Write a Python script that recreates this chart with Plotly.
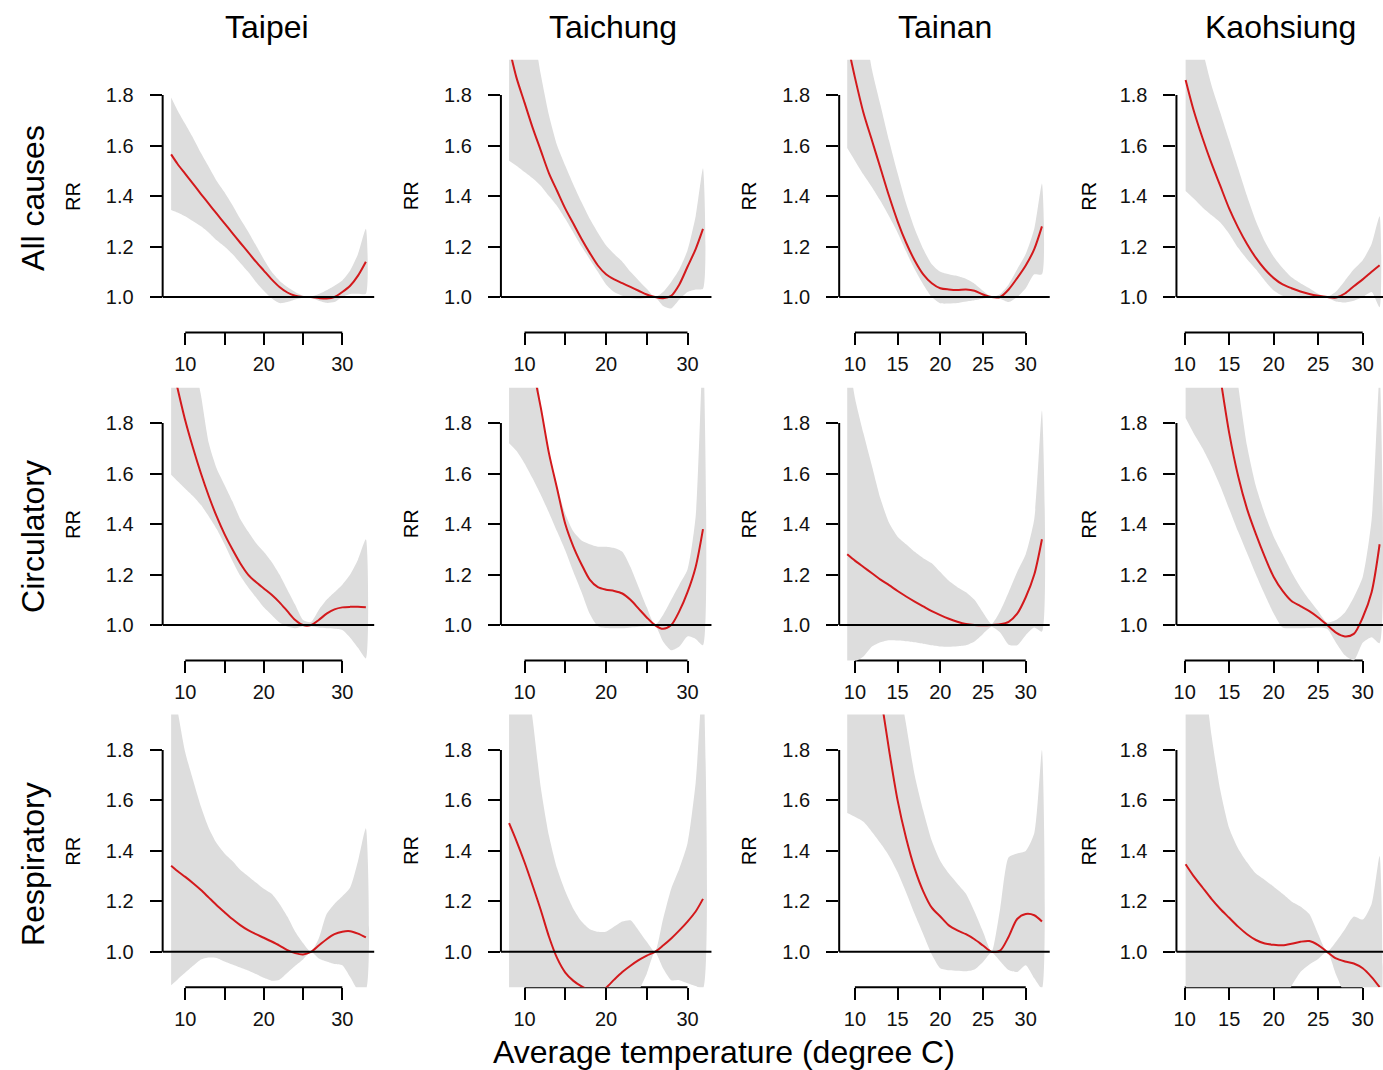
import plotly.graph_objects as go

# ---------------- data ----------------
cities = ["Taipei", "Taichung", "Tainan", "Kaohsiung"]
causes = ["All causes", "Circulatory", "Respiratory"]
y_ticks = [1.0, 1.2, 1.4, 1.6, 1.8]
y_ticktext = ["1.0", "1.2", "1.4", "1.6", "1.8"]
x_ticks = [10, 15, 20, 25, 30]
x_ticktext_sparse = ["10", "", "20", "", "30"]
x_ticktext_full = ["10", "15", "20", "25", "30"]
x_title = "Average temperature (degree C)"
y_title = "RR"

temp_taipei = [8.2, 9, 10, 11, 12, 13, 14, 15, 16, 17, 18, 19, 20, 21, 22, 23, 24, 25, 26, 27, 28, 29, 30, 31, 32, 33]
temp_taichung = [8.1, 9, 10, 11, 12, 13, 14, 15, 16, 17, 18, 19, 20, 21, 22, 23, 24, 25, 26, 27, 28, 29, 30, 31, 31.9]
temp_tainan = [9.1, 10, 11, 12, 13, 14, 15, 16, 17, 18, 19, 20, 21, 22, 23, 24, 25, 26, 27, 28, 29, 30, 31, 31.9]
temp_kaohsiung = [10.1, 11, 12, 13, 14, 15, 16, 17, 18, 19, 20, 21, 22, 23, 24, 25, 26, 27, 28, 29, 30, 31, 31.9]

# Taipei
taipei_all_rr = [1.565, 1.528, 1.488, 1.448, 1.408, 1.369, 1.33, 1.292, 1.253, 1.215, 1.178, 1.14, 1.105, 1.07, 1.04, 1.018, 1.005, 1.0, 1.0, 0.996, 0.994, 1.0, 1.02, 1.045, 1.085, 1.14]
taipei_all_hi = [1.79, 1.74, 1.685, 1.63, 1.57, 1.515, 1.46, 1.415, 1.365, 1.31, 1.26, 1.205, 1.15, 1.10, 1.065, 1.04, 1.02, 1.005, 1.002, 1.012, 1.027, 1.045, 1.066, 1.105, 1.17, 1.27]
taipei_all_lo = [1.345, 1.335, 1.32, 1.30, 1.28, 1.255, 1.225, 1.20, 1.17, 1.135, 1.10, 1.06, 1.025, 0.995, 0.976, 0.98, 0.99, 0.997, 0.998, 0.985, 0.977, 0.98, 1.0, 1.012, 1.013, 1.013]
taipei_circ_rr = [2.05, 1.94, 1.81, 1.70, 1.60, 1.51, 1.43, 1.36, 1.30, 1.245, 1.20, 1.17, 1.145, 1.12, 1.09, 1.055, 1.02, 1.0, 1.0, 1.02, 1.045, 1.062, 1.07, 1.072, 1.072, 1.07]
taipei_circ_hi = [2.4, 2.3, 2.2, 2.06, 1.91, 1.72, 1.62, 1.555, 1.49, 1.42, 1.37, 1.325, 1.29, 1.25, 1.20, 1.14, 1.08, 1.02, 1.012, 1.06, 1.10, 1.13, 1.16, 1.20, 1.26, 1.34]
taipei_circ_lo = [1.595, 1.57, 1.54, 1.51, 1.475, 1.43, 1.38, 1.32, 1.255, 1.195, 1.15, 1.11, 1.07, 1.04, 1.01, 0.994, 0.987, 0.995, 0.995, 0.99, 0.987, 0.985, 0.98, 0.95, 0.91, 0.868]
taipei_resp_rr = [1.341, 1.32, 1.297, 1.272, 1.245, 1.215, 1.185, 1.157, 1.13, 1.106, 1.086, 1.07, 1.056, 1.041, 1.025, 1.007, 0.995, 0.99, 1.0, 1.025, 1.05, 1.07, 1.08, 1.082, 1.072, 1.057]
taipei_resp_hi = [2.1, 1.96, 1.79, 1.68, 1.575, 1.49, 1.43, 1.39, 1.36, 1.325, 1.30, 1.275, 1.25, 1.23, 1.19, 1.14, 1.08, 1.035, 1.0, 1.053, 1.15, 1.19, 1.22, 1.255, 1.36, 1.49]
taipei_resp_lo = [0.868, 0.89, 0.918, 0.945, 0.97, 0.978, 0.976, 0.962, 0.95, 0.938, 0.926, 0.912, 0.897, 0.886, 0.89, 0.917, 0.945, 0.97, 1.0, 0.974, 0.962, 0.952, 0.947, 0.9, 0.85, 0.85]

# Taichung
taichung_all_rr = [1.99, 1.87, 1.77, 1.67, 1.58, 1.49, 1.42, 1.35, 1.29, 1.23, 1.175, 1.125, 1.09, 1.07, 1.055, 1.04, 1.025, 1.01, 1.0, 0.995, 1.005, 1.05, 1.12, 1.19, 1.27]
taichung_all_hi = [2.5, 2.4, 2.25, 2.07, 1.88, 1.72, 1.60, 1.52, 1.445, 1.375, 1.31, 1.255, 1.205, 1.17, 1.14, 1.10, 1.066, 1.033, 1.0, 1.02, 1.06, 1.11, 1.185, 1.32, 1.51]
taichung_all_lo = [1.54, 1.52, 1.495, 1.47, 1.44, 1.40, 1.36, 1.31, 1.255, 1.20, 1.15, 1.10, 1.05, 1.02, 1.005, 0.996, 0.993, 0.996, 1.0, 0.965, 0.955, 0.99, 1.02, 1.03, 1.033]
taichung_circ_rr = [2.55, 2.35, 2.17, 2.02, 1.86, 1.68, 1.54, 1.40, 1.31, 1.24, 1.18, 1.15, 1.14, 1.135, 1.125, 1.10, 1.065, 1.03, 1.0, 0.985, 1.0, 1.055, 1.13, 1.23, 1.38]
taichung_circ_hi = [3.0, 2.8, 2.55, 2.2, 1.87, 1.69, 1.55, 1.44, 1.37, 1.335, 1.32, 1.31, 1.31, 1.305, 1.29, 1.23, 1.15, 1.07, 1.0, 1.04, 1.10, 1.16, 1.22, 1.43, 2.1]
taichung_circ_lo = [1.72, 1.69, 1.64, 1.58, 1.515, 1.445, 1.37, 1.295, 1.21, 1.13, 1.045, 0.995, 0.988, 0.987, 0.987, 0.99, 0.993, 0.996, 1.0, 0.935, 0.90, 0.915, 0.955, 0.945, 0.92]
taichung_resp_rr = [1.51, 1.44, 1.355, 1.262, 1.165, 1.06, 0.975, 0.918, 0.885, 0.863, 0.847, 0.843, 0.858, 0.89, 0.92, 0.945, 0.967, 0.985, 1.0, 1.025, 1.053, 1.085, 1.12, 1.16, 1.21]
taichung_resp_hi = [2.6, 2.4, 2.15, 1.92, 1.65, 1.46, 1.33, 1.24, 1.17, 1.12, 1.09, 1.08, 1.08, 1.10, 1.12, 1.125, 1.085, 1.04, 1.0, 1.13, 1.25, 1.33, 1.43, 1.67, 2.1]
taichung_resp_lo = [0.6, 0.6, 0.6, 0.6, 0.6, 0.6, 0.6, 0.6, 0.62, 0.64, 0.66, 0.68, 0.7, 0.73, 0.76, 0.8, 0.845, 0.913, 1.0, 0.935, 0.888, 0.888, 0.876, 0.865, 0.855]

# Tainan
tainan_all_rr = [2.01, 1.87, 1.73, 1.62, 1.51, 1.40, 1.30, 1.215, 1.145, 1.09, 1.055, 1.035, 1.03, 1.028, 1.03, 1.025, 1.01, 1.0, 1.0, 1.03, 1.075, 1.125, 1.19, 1.28]
tainan_all_hi = [2.5, 2.3, 2.1, 1.9, 1.76, 1.62, 1.49, 1.37, 1.27, 1.19, 1.13, 1.10, 1.09, 1.083, 1.072, 1.053, 1.025, 1.0, 1.012, 1.05, 1.11, 1.17, 1.27, 1.45]
tainan_all_lo = [1.59, 1.54, 1.485, 1.435, 1.38, 1.32, 1.255, 1.18, 1.11, 1.05, 1.0, 0.975, 0.974, 0.976, 0.982, 0.987, 0.994, 1.0, 0.993, 0.98, 1.0, 1.035, 1.09, 1.09]
tainan_circ_rr = [1.28, 1.255, 1.23, 1.205, 1.18, 1.158, 1.135, 1.113, 1.093, 1.074, 1.055, 1.039, 1.025, 1.013, 1.004, 1.0, 0.999, 1.0, 1.003, 1.013, 1.045, 1.11, 1.2, 1.34]
tainan_circ_hi = [2.1, 1.9, 1.76, 1.63, 1.50, 1.405, 1.35, 1.32, 1.29, 1.265, 1.245, 1.21, 1.175, 1.15, 1.13, 1.10, 1.05, 1.005, 1.055, 1.13, 1.21, 1.28, 1.42, 1.85]
tainan_circ_lo = [0.85, 0.855, 0.875, 0.915, 0.932, 0.94, 0.939, 0.936, 0.932, 0.926, 0.92, 0.915, 0.914, 0.916, 0.92, 0.935, 0.965, 0.993, 0.97, 0.922, 0.92, 0.96, 0.99, 0.974]
tainan_resp_rr = [2.9, 2.7, 2.45, 2.22, 2.02, 1.80, 1.60, 1.45, 1.33, 1.24, 1.175, 1.14, 1.105, 1.085, 1.07, 1.05, 1.025, 1.0, 1.005, 1.06, 1.13, 1.15, 1.145, 1.12]
tainan_resp_hi = [3.2, 3.1, 2.9, 2.7, 2.5, 2.3, 2.1, 1.9, 1.70, 1.56, 1.44, 1.36, 1.31, 1.27, 1.23, 1.16, 1.08, 1.0, 1.17, 1.375, 1.39, 1.40, 1.47, 1.8]
tainan_resp_lo = [1.55, 1.535, 1.515, 1.475, 1.43, 1.38, 1.315, 1.235, 1.15, 1.07, 0.99, 0.935, 0.927, 0.925, 0.923, 0.93, 0.96, 0.997, 0.963, 0.928, 0.92, 0.947, 0.895, 0.855]

# Kaohsiung
kaohsiung_all_rr = [1.86, 1.74, 1.63, 1.53, 1.44, 1.35, 1.275, 1.21, 1.155, 1.11, 1.075, 1.05, 1.035, 1.022, 1.012, 1.005, 1.0, 0.998, 1.014, 1.043, 1.07, 1.10, 1.126]
kaohsiung_all_hi = [2.3, 2.15, 1.98, 1.84, 1.73, 1.62, 1.51, 1.40, 1.30, 1.22, 1.16, 1.115, 1.078, 1.055, 1.035, 1.013, 1.0, 1.022, 1.065, 1.11, 1.146, 1.21, 1.32]
kaohsiung_all_lo = [1.42, 1.39, 1.355, 1.325, 1.295, 1.25, 1.195, 1.15, 1.11, 1.065, 1.026, 1.005, 0.997, 0.994, 0.994, 0.997, 0.997, 0.982, 0.978, 0.985, 1.0, 1.02, 0.96]
kaohsiung_circ_rr = [2.9, 2.65, 2.42, 2.2, 1.98, 1.76, 1.59, 1.46, 1.36, 1.27, 1.19, 1.135, 1.095, 1.075, 1.055, 1.03, 1.0, 0.97, 0.955, 0.965, 1.03, 1.13, 1.32]
kaohsiung_circ_hi = [3.2, 3.0, 2.8, 2.6, 2.4, 2.2, 1.95, 1.71, 1.55, 1.44, 1.35, 1.28, 1.21, 1.15, 1.10, 1.055, 1.01, 1.02, 1.05, 1.11, 1.19, 1.417, 2.0]
kaohsiung_circ_lo = [1.82, 1.76, 1.70, 1.63, 1.55, 1.46, 1.37, 1.285, 1.20, 1.12, 1.046, 0.99, 0.987, 0.987, 0.988, 0.99, 0.985, 0.93, 0.88, 0.86, 0.93, 0.952, 0.928]
kaohsiung_resp_rr = [1.347, 1.30, 1.255, 1.21, 1.17, 1.135, 1.10, 1.07, 1.047, 1.033, 1.028, 1.026, 1.032, 1.04, 1.043, 1.027, 1.0, 0.974, 0.962, 0.954, 0.935, 0.9, 0.86]
kaohsiung_resp_hi = [2.6, 2.4, 2.15, 1.86, 1.64, 1.49, 1.41, 1.355, 1.31, 1.285, 1.258, 1.23, 1.20, 1.18, 1.15, 1.07, 1.0, 1.04, 1.09, 1.14, 1.128, 1.19, 1.38]
kaohsiung_resp_lo = [0.6, 0.6, 0.6, 0.6, 0.6, 0.6, 0.6, 0.6, 0.65, 0.7, 0.76, 0.81, 0.865, 0.92, 0.95, 0.972, 1.0, 0.91, 0.83, 0.78, 0.75, 0.72, 0.7]

temps = [temp_taipei, temp_taichung, temp_tainan, temp_kaohsiung]
panels = [
    [(taipei_all_rr, taipei_all_lo, taipei_all_hi), (taichung_all_rr, taichung_all_lo, taichung_all_hi),
     (tainan_all_rr, tainan_all_lo, tainan_all_hi), (kaohsiung_all_rr, kaohsiung_all_lo, kaohsiung_all_hi)],
    [(taipei_circ_rr, taipei_circ_lo, taipei_circ_hi), (taichung_circ_rr, taichung_circ_lo, taichung_circ_hi),
     (tainan_circ_rr, tainan_circ_lo, tainan_circ_hi), (kaohsiung_circ_rr, kaohsiung_circ_lo, kaohsiung_circ_hi)],
    [(taipei_resp_rr, taipei_resp_lo, taipei_resp_hi), (taichung_resp_rr, taichung_resp_lo, taichung_resp_hi),
     (tainan_resp_rr, tainan_resp_lo, tainan_resp_hi), (kaohsiung_resp_rr, kaohsiung_resp_lo, kaohsiung_resp_hi)],
]

# ---------------- layout geometry (pixels) ----------------
W, H = 1383, 1070
col_px = [(160, 372), (499, 710), (838, 1049), (1176, 1383)]
col_range = [(7.12, 34.06), (7.10, 32.94), (8.16, 32.81), (9.07, 32.28)]
row_px = [(59.7, 332.4), (387.7, 660.4), (714.6, 987.2)]
y_range = [0.86, 1.94]
title_x = [265, 611, 944, 1280]
rr_x = [70, 409, 748, 1088]
row_label_y = [198, 536, 864]

FONT = "Liberation Sans, Arial, Helvetica, sans-serif"
BAND = "#dddddd"
RED = "#d3191c"

fig = go.Figure()
layout = dict(width=W, height=H, margin=dict(l=0, r=0, t=0, b=0),
              paper_bgcolor="white", plot_bgcolor="white", showlegend=False,
              font=dict(family=FONT, color="black"))
shapes = []
annotations = []

def sfx(k):
    return "" if k == 1 else str(k)

for r in range(3):
    for c in range(4):
        k = r * 4 + c + 1
        xs = temps[c]
        rr, lo, hi = panels[r][c]
        xa, ya = "x" + sfx(k), "y" + sfx(k)
        fig.add_trace(go.Scatter(x=xs + xs[::-1], y=hi + lo[::-1], fill="toself",
                                 fillcolor=BAND, line=dict(width=0, shape="spline", smoothing=0.6),
                                 mode="lines", hoverinfo="skip", xaxis=xa, yaxis=ya))
        fig.add_trace(go.Scatter(x=xs, y=rr, mode="lines",
                                 line=dict(color=RED, width=2, shape="spline", smoothing=0.8),
                                 xaxis=xa, yaxis=ya))
        x0, x1 = col_px[c]
        ytop, ybot = row_px[r]
        tick_text = x_ticktext_sparse if c < 2 else x_ticktext_full
        layout["xaxis" + sfx(k)] = dict(
            domain=[x0 / W, x1 / W], range=list(col_range[c]), anchor=ya,
            tickvals=x_ticks, ticktext=tick_text, ticks="outside", ticklen=12,
            tickwidth=2, tickcolor="black", showline=False, showgrid=False,
            zeroline=False, tickfont=dict(size=20, color="#111"), ticklabelstandoff=2)
        layout["yaxis" + sfx(k)] = dict(
            domain=[1 - ybot / H, 1 - ytop / H], range=y_range, anchor=xa,
            tickvals=y_ticks, ticktext=y_ticktext, ticks="outside", ticklen=12,
            tickwidth=2, tickcolor="black", showline=False, showgrid=False,
            zeroline=False, tickfont=dict(size=20, color="#111"), ticklabelstandoff=12)
        # axis lines (R style: only between extreme ticks)
        shapes.append(dict(type="line", xref=xa, yref=ya + " domain", x0=x_ticks[0], x1=x_ticks[-1],
                           y0=0, y1=0, line=dict(color="black", width=2), layer="below"))
        shapes.append(dict(type="line", xref=xa + " domain", yref=ya, x0=0, x1=0,
                           y0=y_ticks[0], y1=y_ticks[-1], line=dict(color="black", width=2), layer="below"))
        # reference line RR = 1
        shapes.append(dict(type="line", xref=xa + " domain", yref=ya, x0=0, x1=1,
                           y0=1, y1=1, line=dict(color="black", width=2), layer="above"))
        annotations.append(dict(text=y_title, x=rr_x[c] / W, y=1 - ((ytop + ybot) / 2) / H,
                                xref="paper", yref="paper", showarrow=False, textangle=-90,
                                font=dict(size=20), xanchor="center", yanchor="middle"))

for c, name in enumerate(cities):
    annotations.append(dict(text=name, x=title_x[c] / W, y=1 - 27 / H, xref="paper", yref="paper",
                            showarrow=False, font=dict(size=32), xanchor="center", yanchor="middle"))
for r, name in enumerate(causes):
    annotations.append(dict(text=name, x=30 / W, y=1 - row_label_y[r] / H, xref="paper", yref="paper",
                            showarrow=False, textangle=-90, font=dict(size=32),
                            xanchor="center", yanchor="middle"))
annotations.append(dict(text=x_title, x=723 / W, y=1 - 1052 / H, xref="paper", yref="paper",
                        showarrow=False, font=dict(size=32), xanchor="center", yanchor="middle"))

layout["shapes"] = shapes
layout["annotations"] = annotations
fig.update_layout(**layout)
fig.write_html("out.html", config={"displayModeBar": False},
               post_script="document.body.style.margin='0px';document.body.style.overflow='hidden';")
